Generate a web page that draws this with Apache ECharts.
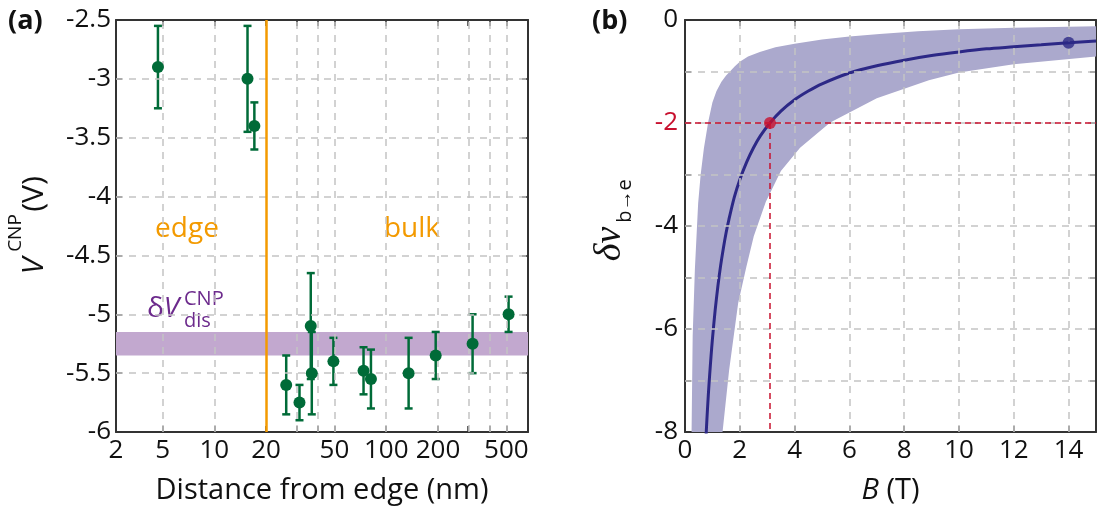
<!DOCTYPE html>
<html><head><meta charset="utf-8">
<script src="https://cdn.jsdelivr.net/npm/echarts@6.0.0/dist/echarts.min.js"></script>
<style>html,body{margin:0;padding:0;background:#fff}#c{width:1097px;height:509px}</style>
</head><body><div id="c"></div>
<script>
// ---------- Panel (a) data ----------
const distNm = [4.7, 15.6, 17.1, 26.2, 31.3, 36.4, 36.9, 49.3, 73.8, 81.5, 135, 194, 318, 515];
const vCnp   = [-2.9, -3.0, -3.4, -5.6, -5.75, -5.1, -5.5, -5.4, -5.48, -5.55, -5.5, -5.35, -5.25, -5.0];
const vErr   = [0.35, 0.45, 0.2, 0.25, 0.15, 0.45, 0.35, 0.2, 0.2, 0.25, 0.3, 0.2, 0.25, 0.15];
const xTickLabels = ['2', '5', '10', '20', '50', '100', '200', '500'];
const xTickValues = [2, 5, 10, 20, 50, 100, 200, 500];
const xGridValues = [5, 10, 20, 30, 40, 50, 100, 200, 300, 400, 500];
const xRangeA = [2.68, 668];
const yRangeA = [-6, -2.5];
const yGridA = [-3, -3.5, -4, -4.5, -5, -5.5];
const bandDis = [-5.35, -5.15];
const edgeBoundary = 20;

// ---------- Panel (b) data ----------
const curveB  = [0.75, 0.8, 0.85, 0.9, 0.95, 1.0, 1.1, 1.2, 1.3, 1.4, 1.5, 1.6, 1.8, 2.0, 2.25, 2.5, 2.75, 3.1, 3.5, 4, 4.5, 5, 6, 7, 8, 9, 10, 11, 12, 13, 14, 15];
const curveNu = [-8.27, -7.75, -7.29, -6.89, -6.53, -6.2, -5.64, -5.17, -4.77, -4.43, -4.13, -3.88, -3.44, -3.1, -2.76, -2.48, -2.25, -2.0, -1.77, -1.55, -1.38, -1.24, -1.03, -0.89, -0.78, -0.69, -0.62, -0.56, -0.52, -0.48, -0.44, -0.41];
const bandUpperB  = [0.24, 0.28, 0.36, 0.48, 0.57, 0.69, 0.85, 1.0, 1.15, 1.33, 1.5, 1.64, 1.82, 2.0, 2.3, 2.73, 3.3, 4.0, 5.0, 6.0, 7.1, 8.5, 10, 12, 15];
const bandUpperNu = [-8.0, -6.14, -4.85, -3.56, -3.01, -2.49, -1.97, -1.6, -1.38, -1.2, -1.08, -1.0, -0.9, -0.81, -0.71, -0.62, -0.53, -0.46, -0.38, -0.32, -0.27, -0.22, -0.18, -0.15, -0.12];
const bandLowerB  = [1.37, 1.61, 1.94, 2.24, 2.51, 2.95, 3.5, 4.2, 5.3, 7.0, 8.9, 10, 12, 15];
const bandLowerNu = [-8.0, -6.8, -5.5, -4.79, -4.2, -3.53, -2.93, -2.48, -1.99, -1.52, -1.17, -1.02, -0.86, -0.71];
const markedPoint = [3.1, -2];
const endPoint = [14, -0.44];
const xTicksB = [0, 2, 4, 6, 8, 10, 12, 14];
const xGridB = [2, 4, 6, 8, 10, 12, 14];
const yGridB = [-1, -2, -3, -4, -5, -6, -7];
const xRangeB = [0, 15];
const yRangeB = [-8, 0];

// ---------- styles ----------
const FONT = '"Open Sans", "Noto Sans", sans-serif';
const cGreen = '#006b38', cOrange = '#f39a00', cPurple = '#6c2a8c', cBandA = '#c2a8cf';
const cBandB = '#aba9cd', cNavy = '#2c2886', cRed = '#c8102e', cAxis = '#333333', cGrid = '#c4c4c4', cText = '#111111';
const log = Math.log10;

const gridLine = { color: cGrid, width: 1.5, type: [7, 6] };
const axisCommon = (extra) => Object.assign({
  axisLine: { show: true, onZero: false, lineStyle: { color: cAxis, width: 2 } },
  axisTick: { show: true, inside: true, length: 6, lineStyle: { color: cAxis, width: 1.5 } },
  splitLine: { show: false },
  axisLabel: { color: cText, fontSize: 26, fontFamily: FONT }
}, extra);

const xLogMin = log(xRangeA[0]);
const xLabelPos = xTickValues.map(v => log(Math.max(v, xRangeA[0])));
const xTickPos = xGridValues.map(v => log(v));

const option = {
  animation: false,
  textStyle: { fontFamily: FONT },
  grid: [
    { left: 116, top: 20, width: 412, height: 412, outerBoundsMode: 'none', containLabel: false },
    { left: 685, top: 20, width: 411, height: 412, outerBoundsMode: 'none', containLabel: false }
  ],
  xAxis: [
    axisCommon({ type: 'value', gridIndex: 0, position: 'bottom', min: xLogMin, max: log(xRangeA[1]),
      axisTick: { show: true, inside: true, length: 6, lineStyle: { color: cAxis, width: 1.5 }, customValues: xTickPos },
      axisLabel: { color: cText, fontSize: 26, fontFamily: FONT, margin: 6, customValues: xLabelPos,
        formatter: (val) => { let bi = 0, bd = 1e9; xLabelPos.forEach((p, i) => { const d = Math.abs(p - val); if (d < bd) { bd = d; bi = i; } }); return xTickLabels[bi]; } },
      name: 'Distance from edge (nm)', nameLocation: 'middle', nameGap: 44,
      nameTextStyle: { fontSize: 29, color: cText, fontFamily: FONT } }),
    axisCommon({ type: 'value', gridIndex: 0, position: 'top', min: xLogMin, max: log(xRangeA[1]),
      axisTick: { show: true, inside: true, length: 6, lineStyle: { color: cAxis, width: 1.5 }, customValues: xTickPos },
      axisLabel: { show: false } }),
    axisCommon({ type: 'value', gridIndex: 1, position: 'bottom', min: xRangeB[0], max: xRangeB[1],
      axisTick: { show: true, inside: true, length: 6, lineStyle: { color: cAxis, width: 1.5 }, customValues: xTicksB },
      axisLabel: { color: cText, fontSize: 26, fontFamily: FONT, margin: 6, customValues: xTicksB },
      name: '{i|B} (T)', nameLocation: 'middle', nameGap: 44,
      nameTextStyle: { fontSize: 29, color: cText, fontFamily: FONT, rich: { i: { fontSize: 29, fontStyle: 'italic', color: cText, fontFamily: FONT } } } }),
    axisCommon({ type: 'value', gridIndex: 1, position: 'top', min: xRangeB[0], max: xRangeB[1],
      axisTick: { show: true, inside: true, length: 6, lineStyle: { color: cAxis, width: 1.5 }, customValues: xTicksB },
      axisLabel: { show: false } })
  ],
  yAxis: [
    axisCommon({ type: 'value', gridIndex: 0, position: 'left', min: yRangeA[0], max: yRangeA[1], interval: 0.5,
      axisLabel: { color: cText, fontSize: 26, fontFamily: FONT, margin: 5 } }),
    axisCommon({ type: 'value', gridIndex: 0, position: 'right', min: yRangeA[0], max: yRangeA[1], interval: 0.5,
      axisLabel: { show: false } }),
    axisCommon({ type: 'value', gridIndex: 1, position: 'left', min: yRangeB[0], max: yRangeB[1], interval: 1,
      axisLabel: { fontSize: 26, fontFamily: FONT, margin: 7,
        color: (v) => (Number(v) === markedPoint[1] ? cRed : cText),
        formatter: (v) => (Math.abs(v % 2) < 1e-9 ? String(v) : '') } }),
    axisCommon({ type: 'value', gridIndex: 1, position: 'right', min: yRangeB[0], max: yRangeB[1], interval: 1,
      axisLabel: { show: false } })
  ],
  series: [
    // ---- panel (a) ----
    { type: 'line', xAxisIndex: 0, yAxisIndex: 0, z: 1, data: [], silent: true,
      markLine: { silent: true, symbol: ['none', 'none'], label: { show: false }, lineStyle: gridLine,
        data: xGridValues.filter(v => v !== edgeBoundary).map(v => ({ xAxis: log(v) })).concat(yGridA.map(v => ({ yAxis: v }))) } },
    { type: 'line', xAxisIndex: 0, yAxisIndex: 0, z: 2, data: [], silent: true,
      markArea: { silent: true, itemStyle: { color: cBandA, opacity: 1 },
        data: [[{ yAxis: bandDis[0] }, { yAxis: bandDis[1] }]] } },
    { type: 'line', xAxisIndex: 0, yAxisIndex: 0, z: 3, data: [], silent: true,
      markLine: { silent: true, symbol: ['none', 'none'], label: { show: false },
        lineStyle: { color: cOrange, width: 2.5, type: 'solid' }, data: [{ xAxis: log(edgeBoundary) }] } },
    { type: 'custom', xAxisIndex: 0, yAxisIndex: 0, z: 4,
      data: distNm.map((d, i) => [log(d), vCnp[i], vErr[i]]), encode: { x: 0, y: 1 },
      renderItem: (p, api) => {
        const x = api.value(0), y = api.value(1), e = api.value(2);
        const t = api.coord([x, y + e]), b = api.coord([x, y - e]);
        const st = { stroke: cGreen, lineWidth: 2.5 }, cw = 4;
        return { type: 'group', children: [
          { type: 'line', shape: { x1: t[0], y1: t[1], x2: b[0], y2: b[1] }, style: st },
          { type: 'line', shape: { x1: t[0] - cw, y1: t[1], x2: t[0] + cw, y2: t[1] }, style: st },
          { type: 'line', shape: { x1: b[0] - cw, y1: b[1], x2: b[0] + cw, y2: b[1] }, style: st }
        ] };
      } },
    { type: 'scatter', xAxisIndex: 0, yAxisIndex: 0, z: 5, symbolSize: 12,
      itemStyle: { color: cGreen, opacity: 1 }, data: distNm.map((d, i) => [log(d), vCnp[i]]) },
    // ---- panel (b) ----
    { type: 'custom', xAxisIndex: 2, yAxisIndex: 2, z: 1, clip: true, data: [[0, 0]], silent: true,
      renderItem: (p, api) => {
        const up = bandUpperB.map((b, i) => api.coord([b, bandUpperNu[i]]));
        const lo = bandLowerB.map((b, i) => api.coord([b, bandLowerNu[i]])).reverse();
        return { type: 'polygon', shape: { points: up.concat(lo) }, style: { fill: cBandB } };
      } },
    { type: 'line', xAxisIndex: 2, yAxisIndex: 2, z: 2, data: [], silent: true,
      markLine: { silent: true, symbol: ['none', 'none'], label: { show: false }, lineStyle: gridLine,
        data: xGridB.map(v => ({ xAxis: v })).concat(yGridB.map(v => ({ yAxis: v }))) } },
    { type: 'line', xAxisIndex: 2, yAxisIndex: 2, z: 3, data: [], silent: true,
      markLine: { silent: true, symbol: ['none', 'none'], label: { show: false },
        lineStyle: { color: cRed, width: 1.5, type: [6, 4] },
        data: [
          [{ coord: [xRangeB[0], markedPoint[1]] }, { coord: [xRangeB[1], markedPoint[1]] }],
          [{ coord: [markedPoint[0], markedPoint[1]] }, { coord: [markedPoint[0], yRangeB[0]] }]
        ] } },
    { type: 'line', xAxisIndex: 2, yAxisIndex: 2, z: 4, smooth: 0.3, showSymbol: false, clip: true,
      lineStyle: { color: cNavy, width: 3 }, data: curveB.map((b, i) => [b, curveNu[i]]) },
    { type: 'scatter', xAxisIndex: 2, yAxisIndex: 2, z: 5, symbolSize: 12,
      data: [ { value: markedPoint, itemStyle: { color: cRed } }, { value: endPoint, itemStyle: { color: cNavy } } ] }
  ],
  graphic: [
    { type: 'text', x: 8, y: 21, style: { text: '(a)', font: 'bold 27px ' + FONT, fill: cText, align: 'left', verticalAlign: 'middle' } },
    { type: 'text', x: 592, y: 21, style: { text: '(b)', font: 'bold 27px ' + FONT, fill: cText, align: 'left', verticalAlign: 'middle' } },
    { type: 'text', x: 187, y: 229, style: { text: 'edge', font: '28px ' + FONT, fill: cOrange, align: 'center', verticalAlign: 'middle' } },
    { type: 'text', x: 412, y: 229, style: { text: 'bulk', font: '28px ' + FONT, fill: cOrange, align: 'center', verticalAlign: 'middle' } },
    { type: 'text', x: 147, y: 309, style: { text: '{a|δ}{b|V}', fill: cPurple, align: 'left', verticalAlign: 'middle',
        rich: { a: { fontSize: 28, fontFamily: FONT, color: cPurple }, b: { fontSize: 28, fontStyle: 'italic', fontFamily: FONT, color: cPurple } } } },
    { type: 'text', x: 184, y: 299, style: { text: 'CNP', font: '20px ' + FONT, fill: cPurple, align: 'left', verticalAlign: 'middle' } },
    { type: 'text', x: 184, y: 321, style: { text: 'dis', font: '20px ' + FONT, fill: cPurple, align: 'left', verticalAlign: 'middle' } },
    // y title (a)
    { type: 'text', x: 34, y: 266, rotation: Math.PI / 2, style: { text: 'V', font: 'italic 30px ' + FONT, fill: cText, align: 'center', verticalAlign: 'middle' } },
    { type: 'text', x: 16, y: 233, rotation: Math.PI / 2, style: { text: 'CNP', font: '19px ' + FONT, fill: cText, align: 'center', verticalAlign: 'middle' } },
    { type: 'text', x: 34, y: 194, rotation: Math.PI / 2, style: { text: '(V)', font: '30px ' + FONT, fill: cText, align: 'center', verticalAlign: 'middle' } },
    // y title (b)
    { type: 'text', x: 610, y: 244, rotation: Math.PI / 2, style: { text: 'δν', font: 'italic 38px "Liberation Serif", "DejaVu Serif", serif', fill: cText, align: 'center', verticalAlign: 'middle' } },
    { type: 'text', x: 625, y: 201, rotation: Math.PI / 2, style: { text: 'b→e', font: '20px ' + FONT, fill: cText, align: 'center', verticalAlign: 'middle' } }
  ]
};
const chart = echarts.init(document.getElementById('c'), null, { renderer: 'canvas' });
chart.setOption(option);
</script>
</body></html>
